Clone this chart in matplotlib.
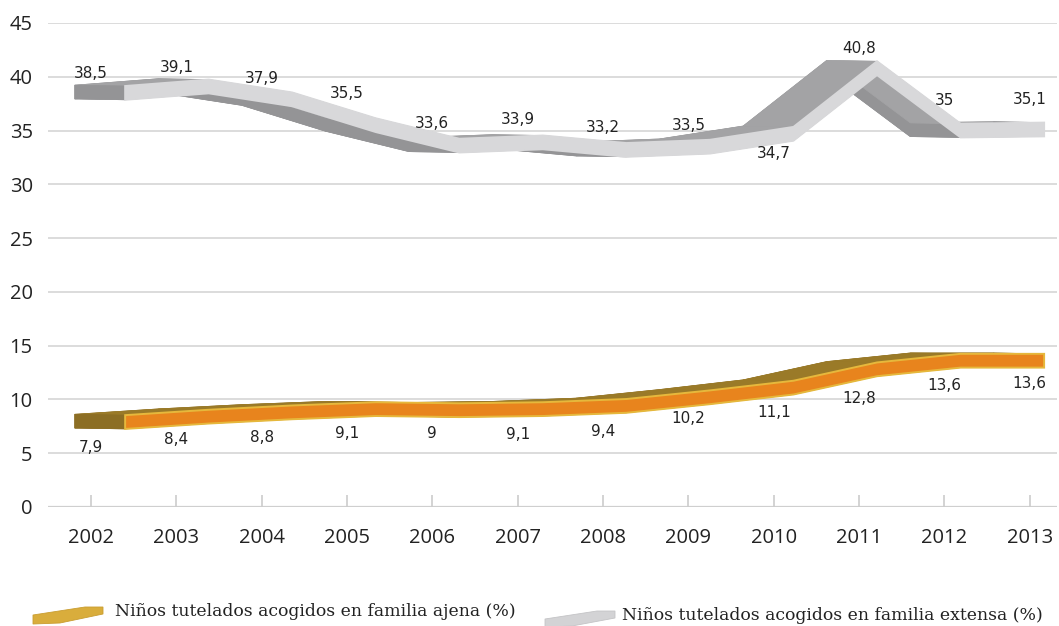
import numpy as np
import matplotlib.pyplot as plt
from matplotlib.patches import Polygon

years = ['2002', '2003', '2004', '2005', '2006', '2007',
         '2008', '2009', '2010', '2011', '2012', '2013']
ajena = [7.9, 8.4, 8.8, 9.1, 9.0, 9.1, 9.4, 10.2, 11.1, 12.8, 13.6, 13.6]
extensa = [38.5, 39.1, 37.9, 35.5, 33.6, 33.9, 33.2, 33.5, 34.7, 40.8, 35.0, 35.1]
ajena_txt = ['7,9', '8,4', '8,8', '9,1', '9', '9,1', '9,4', '10,2', '11,1', '12,8', '13,6', '13,6']
extensa_txt = ['38,5', '39,1', '37,9', '35,5', '33,6', '33,9', '33,2', '33,5', '34,7', '40,8', '35', '35,1']

# label placement relative to each value (axis units)
ajena_lab_dy = [-2.4, -2.1, -2.3, -2.3, -2.2, -2.4, -2.35, -1.95, -2.3, -2.7, -2.3, -2.1]
extensa_lab_dy = [1.85, 1.8, 1.9, 2.9, 2.1, 2.1, 2.05, 2.0, -1.8, 1.8, 2.8, 2.8]

# pseudo-3d ribbon geometry
X0, XSTEP = 0.40, 0.979
DX, DY = -0.59, 0.08
HALF = 0.64

W, H = 1059, 626
fig = plt.figure(figsize=(W / 100, H / 100), dpi=100)
ax = fig.add_axes([48 / W, 119 / H, (1057 - 48) / W, 484 / H])


def ribbon(vals, front, edge, top_col, low_col, z):
    n = len(vals)
    xs = X0 + XSTEP * np.arange(n)
    v = np.array(vals)
    top = np.column_stack([xs, v + HALF])
    bot = np.column_stack([xs, v - HALF])
    off = np.array([DX, DY])
    # swept faces (depth of the ribbon)
    for i in range(n - 1):
        q = [bot[i], bot[i + 1], bot[i + 1] + off, bot[i] + off]
        ax.add_patch(Polygon(q, closed=True, fc=low_col, ec=low_col, lw=0.5, zorder=z))
    back = np.vstack([top + off, (bot + off)[::-1]])
    ax.add_patch(Polygon(back, closed=True, fc=low_col, ec=low_col, lw=0.5, zorder=z))
    for i in range(n - 1):
        q = [top[i], top[i + 1], top[i + 1] + off, top[i] + off]
        ax.add_patch(Polygon(q, closed=True, fc=top_col, ec=top_col, lw=0.5, zorder=z + 0.1))
    for j in (0, n - 1):
        q = [top[j], bot[j], bot[j] + off, top[j] + off]
        ax.add_patch(Polygon(q, closed=True, fc=low_col, ec=low_col, lw=0.5, zorder=z + 0.2))
    face = np.vstack([top, bot[::-1]])
    ax.add_patch(Polygon(face, closed=True, fc=front, ec=edge, lw=1.4, zorder=z + 0.3))


ribbon(extensa, '#d8d8da', '#d8d8da', '#a3a3a5', '#949496', 3)
ribbon(ajena, '#e8841d', '#e6b83c', '#9a7a28', '#8c6e24', 3)

for i in range(len(years)):
    ax.annotate(extensa_txt[i], (i, extensa[i] + extensa_lab_dy[i]), ha='center', va='center',
                fontsize=11, color='#222222', family='DejaVu Sans', zorder=6)
    ax.annotate(ajena_txt[i], (i, ajena[i] + ajena_lab_dy[i]), ha='center', va='center',
                fontsize=11, color='#222222', family='DejaVu Sans', zorder=6)

ax.set_xlim(-0.504, 11.32)
ax.set_ylim(0, 45)
for s in ax.spines.values():
    s.set_visible(False)
for yv in range(5, 50, 5):
    ax.axhline(yv, color='#d9d9d9', lw=1.3, zorder=1)
ax.axhline(0, color='#cfcfcf', lw=1.6, zorder=1)

ax.set_xticks(range(len(years)))
ax.set_xticklabels(years, family='Open Sans', fontsize=14.5, color='#222222')
ax.tick_params(axis='x', direction='in', length=8.6, width=1.2, color='#cccccc', pad=15)
ax.set_yticks(range(0, 50, 5))
ax.set_yticklabels([str(t) for t in range(0, 50, 5)], family='Open Sans', fontsize=14.5, color='#222222')
ax.tick_params(axis='y', length=0, pad=11)


def px(pts):
    return [(x / W, 1 - y / H) for x, y in pts]


# legend keys
fig.add_artist(Polygon(px([(33, 615), (85, 607), (103, 607), (103, 614), (60, 623), (33, 624)]),
                       closed=True, transform=fig.transFigure, fc='#d9ad3c', ec='#c99d30', lw=0.6))
fig.add_artist(Polygon(px([(545, 619), (597, 611), (615, 611), (615, 618), (572, 626), (545, 627)]),
                       closed=True, transform=fig.transFigure, fc='#d3d3d5', ec='#c4c4c6', lw=0.6))
fig.text(115 / W, 1 - 612 / H, 'Niños tutelados acogidos en familia ajena (%)',
         family='DejaVu Serif', fontsize=12.4, color='#222222', va='center')
fig.text(622 / W, 1 - 616 / H, 'Niños tutelados acogidos en familia extensa (%)',
         family='DejaVu Serif', fontsize=12.4, color='#222222', va='center')

fig.savefig('out.png', dpi=100)
